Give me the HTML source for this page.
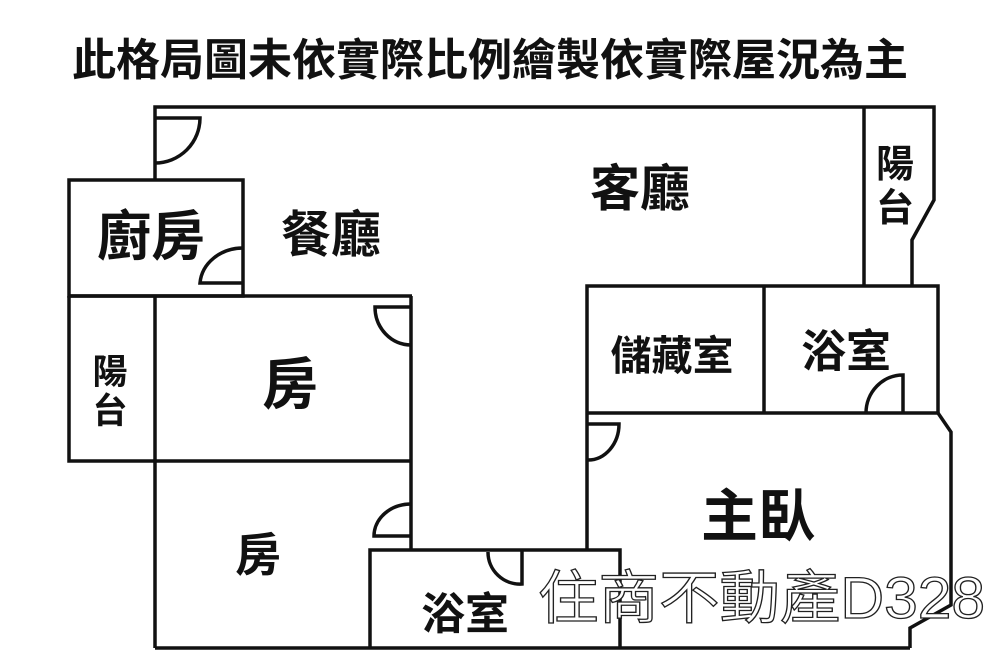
<!DOCTYPE html>
<html><head><meta charset="utf-8"><style>
html,body{margin:0;padding:0;background:#fff;}
svg{display:block}
text{font-family:"Liberation Sans","Noto Sans CJK TC",sans-serif;font-weight:bold;fill:#111;}
</style></head><body>
<svg width="1000" height="667" viewBox="0 0 1000 667" xmlns="http://www.w3.org/2000/svg">
<rect width="1000" height="667" fill="#fff"/>
<text x="490" y="75" font-size="44" text-anchor="middle">此格局圖未依實際比例繪製依實際屋況為主</text>
<g fill="none" stroke="#111" stroke-width="3.5" stroke-linejoin="miter">
<polyline points="155,180 155,107 934,107 934,200 912,240 912,286"/>
<line x1="864" y1="107" x2="864" y2="286"/>
<rect x="69" y="180" width="174" height="116"/>
<line x1="69" y1="296" x2="412" y2="296"/>
<polyline points="69,296 69,461 411,461"/>
<line x1="155" y1="296" x2="155" y2="648"/>
<line x1="411" y1="296" x2="411" y2="550"/>
<line x1="155" y1="648" x2="910" y2="648"/>
<polyline points="370,648 370,550 620,550 620,648"/>
<polyline points="587,550 587,286 938,286 938,413"/>
<line x1="587" y1="413" x2="938" y2="413"/>
<line x1="764" y1="286" x2="764" y2="413"/>
<polyline points="938,413 951,432 951,605 910,628 910,648"/>
<path d="M155,118 H200 A45,45 0 0 1 155,163"/>
<path d="M243,283 H200 A43,38 0 0 1 243,248"/>
<path d="M411,307 H375 A36,38 0 0 0 411,345"/>
<path d="M411,536 H374 A37,32 0 0 1 411,504"/>
<path d="M522,550 V584 A32,32 0 0 1 488,552"/>
<path d="M903,413 V375 A37,38 0 0 0 866,413"/>
<path d="M588,424 H619 A31,36 0 0 1 588,460"/>
</g>
<text x="640" y="206" font-size="50" text-anchor="middle">客廳</text>
<text x="331" y="252" font-size="50" text-anchor="middle">餐廳</text>
<text x="151" y="255" font-size="54" text-anchor="middle">廚房</text>
<text x="110" y="384" font-size="35" text-anchor="middle">陽</text>
<text x="110" y="423" font-size="35" text-anchor="middle">台</text>
<text x="895" y="177" font-size="38" text-anchor="middle">陽</text>
<text x="895" y="221" font-size="38" text-anchor="middle">台</text>
<text x="290" y="404" font-size="56" text-anchor="middle">房</text>
<text x="258" y="571" font-size="46" text-anchor="middle">房</text>
<text x="465" y="629" font-size="44" text-anchor="middle">浴室</text>
<text x="672" y="370" font-size="41" text-anchor="middle">儲藏室</text>
<text x="846" y="367" font-size="45" text-anchor="middle">浴室</text>
<text x="758" y="536" font-size="57" text-anchor="middle">主臥</text>
<text x="538" y="618" font-size="58" textLength="447" lengthAdjust="spacingAndGlyphs" style="font-weight:normal;fill:#fff;stroke:#222;stroke-width:1.3">住商不動產D328</text>
</svg>
</body></html>
